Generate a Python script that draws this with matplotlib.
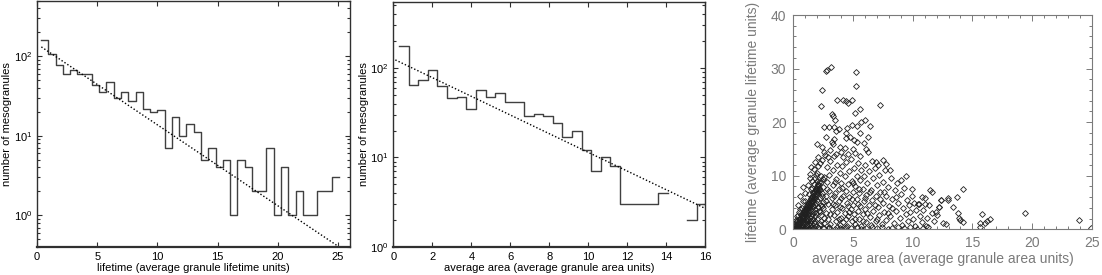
import numpy as np
import matplotlib
matplotlib.use('Agg')
import matplotlib.pyplot as plt
from matplotlib.ticker import MultipleLocator, LogLocator, NullFormatter

plt.rcParams['font.family'] = ['Liberation Sans', 'DejaVu Sans']
plt.rcParams['mathtext.fontset'] = 'custom'
plt.rcParams['mathtext.rm'] = 'Liberation Sans'
plt.rcParams['mathtext.it'] = 'Liberation Sans'

# lifetime histogram (41 bins, counts)
life_edges = np.linspace(0.33, 25.1, 42)
life_counts = [158, 106, 77, 60, 68, 60, 60, 43, 35, 47,
               30, 35, 27, 35, 22, 20, 21, 7, 17, 10,
               14, 11, 5, 7, 4, 5, 1, 5, 4, 2,
               2, 7, 1, 4, 1, 2, 1, 1, 2, 2, 3]
life_fit_x = [0.36, 25.0]
life_fit_y = [131, 0.41]

# area histogram (32 bins, 0 = empty bin)
area_edges = np.linspace(0.29, 16.07, 33)
area_counts = [175, 64, 74, 95, 63, 46, 48, 35, 57, 48,
               53, 42, 42, 29, 31, 29, 24, 17, 20, 12,
               7, 10, 8, 3, 3, 3, 3, 4, 0, 0, 2, 3]
area_fit_x = [0.1, 16.0]
area_fit_y = [123, 2.7]

# scatter: (area, lifetime) per mesogranule
pts = [
    # sparse upper points
    (2.85, 29.7), (3.16, 30.3), (5.25, 29.4), (5.25, 26.7), (2.37, 26.0), (2.29, 23.0),
    (4.19, 24.2), (4.41, 23.9), (4.6, 23.5), (4.94, 24.2), (7.3, 23.3), (3.2, 21.6),
    (3.35, 21.1), (3.5, 20.5), (5.17, 21.7), (5.59, 22.5), (6.0, 20.5), (5.67, 20.1),
    (2.6, 19.1), (3.0, 19.1), (3.4, 19.1), (3.8, 18.8), (4.5, 19.0), (4.94, 19.4),
    (5.36, 19.3), (6.4, 19.3), (6.25, 17.3), (5.59, 18.0), (4.75, 17.3), (4.41, 18.0),
    (2.7, 17.3), (2.0, 15.9), (2.37, 15.3), (3.2, 16.3), (3.9, 15.4), (4.33, 15.1),
    (5.08, 16.6), (5.3, 16.3), (6.28, 14.5), (4.19, 13.5), (5.17, 14.2), (2.04, 13.5),
    (2.65, 13.9), (7.54, 13.0), (6.9, 12.5), (7.8, 12.2), (8.1, 11.1), (9.44, 9.9),
    (8.99, 9.2), (9.92, 7.6), (2.74, 29.5), (3.63, 24.2), (3.4, 16.8), (4.4, 17.1),
    (3.6, 18.4), (1.82, 12.6), (1.4, 10.4), (0.84, 7.9), (0.56, 6.3), (0.42, 4.6),
    # diagonal wedge near the origin
    (0.05, 0.1), (0.1, 0.3), (0.15, 0.1), (0.2, 0.6), (0.22, 0.2), (0.3, 0.9), (0.3, 0.4),
    (0.35, 0.1), (0.4, 1.2), (0.42, 0.5), (0.45, 0.2), (0.5, 1.6), (0.5, 0.8), (0.55, 0.3),
    (0.6, 1.9), (0.6, 1.1), (0.62, 0.5), (0.65, 0.1), (0.7, 2.3), (0.7, 1.5), (0.72, 0.8),
    (0.75, 0.3), (0.8, 2.6), (0.8, 1.9), (0.82, 1.2), (0.85, 0.6), (0.9, 3.0), (0.9, 2.2),
    (0.92, 1.5), (0.95, 0.9), (0.97, 0.2), (1.0, 3.4), (1.0, 2.6), (1.02, 1.8), (1.05, 1.1),
    (1.07, 0.4), (1.1, 3.8), (1.1, 3.0), (1.12, 2.2), (1.15, 1.4), (1.18, 0.7), (1.2, 4.3),
    (1.2, 3.5), (1.22, 2.6), (1.25, 1.8), (1.28, 1.0), (1.3, 0.2), (1.3, 4.7), (1.32, 3.9),
    (1.35, 3.0), (1.38, 2.1), (1.4, 1.3), (1.4, 5.1), (1.42, 4.3), (1.45, 3.4), (1.48, 2.5),
    (1.5, 1.6), (1.5, 5.6), (1.52, 0.5), (1.55, 4.8), (1.58, 3.9), (1.6, 6.0), (1.6, 2.9),
    (1.62, 2.0), (1.65, 5.2), (1.68, 4.3), (1.7, 6.4), (1.7, 3.3), (1.72, 1.2), (1.75, 5.6),
    (1.78, 4.6), (1.8, 6.9), (1.8, 2.4), (1.82, 3.8), (1.85, 5.9), (1.88, 7.3), (1.9, 4.9),
    (1.9, 0.6), (1.92, 3.1), (1.95, 6.5), (2.0, 7.8), (2.0, 5.4), (2.02, 2.0), (2.05, 4.2),
    (2.1, 6.9), (2.1, 8.3), (2.15, 3.5), (2.2, 5.8), (2.2, 1.0), (2.25, 7.4), (2.3, 8.8),
    (2.3, 4.6), (2.35, 2.7), (2.4, 6.2), (2.45, 9.4), (2.5, 0.3), (2.5, 7.9), (2.5, 5.1),
    (0.3, 2.5), (0.5, 3.2), (0.2, 1.8), (0.7, 4.0), (1.0, 5.2), (1.3, 6.5), (1.5, 7.5),
    (1.6, 9.0), (1.9, 10.2), (1.7, 11.3), (2.1, 11.8), (1.5, 11.6),
    (0.12, 0.6), (0.18, 1.0), (0.26, 1.3), (0.33, 1.6), (0.38, 0.7), (0.47, 1.9), (0.53, 2.2),
    (0.58, 1.4), (0.66, 2.6), (0.68, 1.8), (0.77, 3.0), (0.79, 2.1), (0.87, 3.4), (0.88, 2.5),
    (0.96, 3.8), (0.98, 2.9), (1.06, 4.2), (1.08, 3.3), (1.16, 4.6), (1.17, 3.7), (1.26, 5.0),
    (1.27, 4.1), (1.36, 5.4), (1.37, 4.5), (1.46, 5.9), (1.47, 4.9), (1.56, 6.3), (1.57, 5.3),
    (1.66, 6.7), (1.67, 5.7), (1.76, 7.1), (1.77, 6.1), (1.86, 7.6), (1.87, 6.5), (1.96, 8.0),
    (1.97, 6.9), (2.06, 8.4), (2.07, 7.3), (2.16, 8.8), (2.17, 7.7), (0.25, 0.05), (0.57, 0.05),
    (0.9, 0.05), (1.2, 0.05), (1.6, 0.1), (1.75, 0.3), (1.45, 0.9), (1.85, 1.6),
    # bottom row
    (0.3, 0.2), (0.8, 0.4), (1.3, 0.1), (2.1, 0.5), (2.6, 0.2), (3.0, 0.4), (3.5, 0.1),
    (3.9, 0.3), (4.4, 0.5), (4.8, 0.2), (5.3, 0.4), (5.7, 0.1), (6.1, 0.3), (6.6, 0.5),
    (7.0, 0.2), (7.4, 0.4), (7.9, 0.1), (8.3, 0.3), (8.8, 0.5), (9.3, 0.2), (9.8, 0.4),
    (10.4, 0.1), (10.9, 0.3), (11.3, 0.5),
    # main cloud
    (2.6, 1.2), (2.7, 3.1), (2.7, 6.2), (2.8, 8.9), (2.8, 11.6), (2.9, 2.0), (2.9, 4.8),
    (3.0, 7.1), (3.0, 10.1), (3.1, 12.8), (3.1, 1.0), (3.2, 3.8), (3.2, 5.9), (3.3, 8.2),
    (3.3, 11.0), (3.4, 2.6), (3.4, 13.6), (3.5, 4.5), (3.5, 6.8), (3.6, 9.4), (3.6, 1.5),
    (3.7, 12.0), (3.7, 3.3), (3.8, 7.6), (3.8, 5.2), (3.9, 10.6), (3.9, 0.8), (4.0, 2.2),
    (4.0, 8.7), (4.1, 4.0), (4.1, 11.8), (4.2, 6.3), (4.2, 1.3), (4.3, 9.9), (4.3, 3.0),
    (4.4, 12.6), (4.4, 7.2), (4.5, 5.0), (4.5, 0.7), (4.6, 8.4), (4.6, 2.5), (4.7, 10.8),
    (4.7, 6.0), (4.8, 3.8), (4.8, 13.2), (4.9, 1.6), (4.9, 9.1), (5.0, 7.0), (5.0, 4.6),
    (5.1, 11.5), (5.1, 2.9), (5.2, 0.9), (5.2, 8.0), (5.3, 5.6), (5.3, 10.0), (5.4, 3.5),
    (5.4, 12.4), (5.5, 6.8), (5.5, 1.9), (5.6, 9.2), (5.6, 4.3), (5.7, 11.0), (5.7, 0.6),
    (5.8, 7.6), (5.8, 2.8), (5.9, 5.2), (5.9, 9.9), (6.0, 3.7), (6.0, 12.0), (6.1, 1.4),
    (6.1, 6.4), (6.2, 8.6), (6.3, 4.6), (6.3, 10.8), (6.4, 2.3), (6.5, 7.3), (6.5, 0.8),
    (6.6, 5.5), (6.7, 9.5), (6.7, 3.4), (6.8, 11.5), (6.9, 6.2), (6.9, 1.6), (7.0, 8.2),
    (7.1, 4.2), (7.2, 2.6), (7.2, 10.2), (7.3, 6.9), (7.4, 0.9), (7.5, 5.0), (7.5, 8.9),
    (7.6, 3.2), (7.7, 11.0), (7.8, 1.8), (7.8, 6.3), (7.9, 7.9), (8.0, 4.4), (8.1, 2.4),
    (8.2, 9.6), (8.3, 5.7), (8.4, 1.2), (8.5, 7.4), (8.6, 3.5), (8.7, 8.6), (8.8, 5.0),
    (8.9, 2.1), (9.0, 6.6), (9.1, 0.8), (9.2, 4.0), (9.3, 7.8), (9.4, 2.9), (9.5, 5.5),
    (9.6, 1.5), (9.7, 4.6), (9.8, 3.3), (9.9, 6.2), (10.0, 2.0), (10.1, 4.9), (10.2, 0.6),
    (10.3, 3.6), (10.5, 4.8), (10.6, 2.4), (10.8, 1.3), (10.9, 3.6), (11.1, 0.6), (11.2, 2.2),
    (11.4, 4.6), (11.6, 3.0), (11.8, 1.5), (12.0, 2.6), (12.2, 4.2),
    (1.6, 7.8), (1.8, 9.5), (2.0, 10.6), (2.2, 12.3), (2.3, 10.0), (2.4, 13.0), (2.6, 9.8),
    (2.6, 14.5), (2.9, 13.5), (3.1, 14.8), (3.6, 14.0), (3.3, 16.0), (4.0, 14.4), (4.6, 14.0),
    (5.0, 15.0), (5.6, 13.7), (6.1, 14.9), (5.9, 16.1), (6.6, 12.8), (7.1, 12.0), (2.1, 0.3),
    (2.3, 1.5), (2.6, 2.2), (2.5, 3.9), (2.4, 6.8), (2.7, 5.3), (2.8, 7.5), (3.0, 0.2),
    (3.1, 2.9), (3.3, 4.7), (3.4, 6.3), (3.5, 8.9), (3.7, 0.4), (3.8, 2.0), (3.9, 4.1),
    (4.0, 5.8), (4.1, 7.7), (4.3, 0.3), (4.4, 1.9), (4.6, 4.4), (4.7, 3.2), (4.9, 5.7),
    (5.0, 8.6), (5.2, 2.0), (5.4, 4.8), (5.5, 7.6), (5.8, 1.5), (6.0, 5.9), (6.2, 3.0),
    (6.4, 6.9), (6.8, 4.6), (7.0, 2.0), (7.3, 5.6), (7.6, 7.0), (7.9, 3.0), (8.3, 4.0),
    (8.6, 6.0), (1.2, 8.2), (1.0, 6.8), (0.8, 5.3), (0.6, 3.7), (0.4, 2.6), (1.4, 9.6),
    (1.7, 8.4), (2.0, 9.1), (2.2, 3.3), (2.4, 4.4),
    # tail
    (11.46, 7.3), (11.65, 6.9), (14.25, 7.5), (12.94, 5.9), (12.94, 5.5), (13.7, 6.0),
    (12.38, 5.45), (11.04, 5.9), (12.2, 4.2), (11.94, 3.3), (13.36, 4.1), (13.78, 3.0),
    (13.9, 2.05), (13.97, 1.7), (14.25, 1.36), (15.79, 2.85), (15.65, 1.1), (15.65, 0.5),
    (16.07, 1.1), (16.21, 1.6), (16.49, 2.0), (19.42, 3.0), (23.95, 1.7), (24.95, 0.2),
    (12.57, 1.1), (12.77, 0.9), (10.48, 4.8), (10.75, 6.1), (11.0, 4.8), (12.4, 5.5),
]
sc_area = [p[0] for p in pts]
sc_life = [p[1] for p in pts]


def StepOutline(ax, edges, counts):
    # outline only, broken where a bin is empty (log axis)
    vals = np.array(counts, dtype=float)
    vals[vals <= 0] = np.nan
    vals = np.append(vals, vals[-1])
    ax.step(edges, vals, where='post', color='#404040', lw=1.0)


def LogFrame(ax):
    ax.set_yscale('log')
    ax.yaxis.set_major_locator(LogLocator(base=10, numticks=10))
    ax.yaxis.set_minor_locator(LogLocator(base=10, subs=np.arange(2, 10), numticks=10))
    ax.yaxis.set_minor_formatter(NullFormatter())
    ax.tick_params(which='both', direction='in', top=True, right=True, labelsize=8,
                   color='#303030', width=0.8)
    ax.tick_params(which='major', length=3.5)
    ax.tick_params(which='minor', length=2)
    for s in ax.spines.values():
        s.set_color('#303030')
        s.set_linewidth(1.0)
    ax.spines['bottom'].set_linewidth(1.6)


fig = plt.figure(figsize=(11.02, 2.75), dpi=100)

# left: lifetime histogram
ax1 = fig.add_axes([0.0336, 0.1018, 0.284, 0.896])
StepOutline(ax1, life_edges, life_counts)
ax1.plot(life_fit_x, life_fit_y, color='black', lw=1.0, ls=(0, (1, 1.5)))
ax1.set_xlim(0, 26)
ax1.set_ylim(0.4, 500)
LogFrame(ax1)
ax1.xaxis.set_major_locator(MultipleLocator(5))
ax1.set_xlabel('lifetime (average granule lifetime units)', fontsize=8, labelpad=1)
ax1.set_ylabel('number of mesogranules', fontsize=8, labelpad=1)

# middle: area histogram
ax2 = fig.add_axes([0.357, 0.1018, 0.2829, 0.892])
StepOutline(ax2, area_edges, area_counts)
ax2.plot(area_fit_x, area_fit_y, color='black', lw=1.0, ls=(0, (1, 1.5)))
ax2.set_xlim(0, 16)
ax2.set_ylim(1, 550)
LogFrame(ax2)
ax2.xaxis.set_major_locator(MultipleLocator(2))
ax2.set_xlabel('average area (average granule area units)', fontsize=8, labelpad=1)
ax2.set_ylabel('number of mesogranules', fontsize=8, labelpad=1)

# right: lifetime vs area scatter
grey = '#7a7a7a'
ax3 = fig.add_axes([0.7199, 0.1662, 0.2708, 0.779])
ax3.plot(sc_area, sc_life, ls='none', marker='D', ms=3.0, mfc='none',
         mec='#202020', mew=0.6)
ax3.set_xlim(0, 25)
ax3.set_ylim(0, 40)
ax3.xaxis.set_major_locator(MultipleLocator(5))
ax3.xaxis.set_minor_locator(MultipleLocator(1))
ax3.yaxis.set_major_locator(MultipleLocator(10))
ax3.yaxis.set_minor_locator(MultipleLocator(2))
ax3.tick_params(which='both', direction='in', top=True, right=True, color=grey,
                labelcolor=grey, labelsize=10, width=0.7)
ax3.tick_params(which='major', length=4)
ax3.tick_params(which='minor', length=2)
ax3.tick_params(axis='x', pad=5)
ax3.tick_params(axis='y', pad=5)
for s in ax3.spines.values():
    s.set_color(grey)
    s.set_linewidth(0.8)
ax3.set_xlabel('average area (average granule area units)', fontsize=10, color=grey, labelpad=1)
ax3.set_ylabel('lifetime (average granule lifetime units)', fontsize=10, color=grey, labelpad=8)

fig.savefig('out.png', dpi=100)
